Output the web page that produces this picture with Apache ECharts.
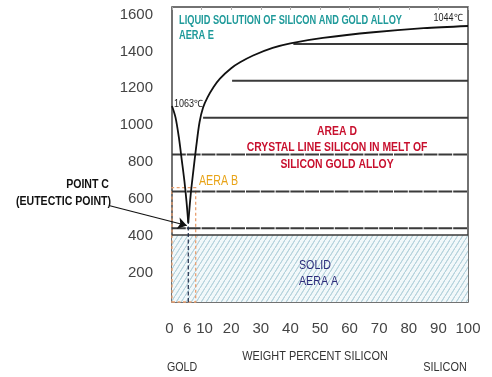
<!DOCTYPE html>
<html><head><meta charset="utf-8">
<script src="https://cdn.jsdelivr.net/npm/echarts@6/dist/echarts.min.js"></script>
<style>html,body{margin:0;padding:0;background:#fff;}#c{width:492px;height:377px;}</style>
</head><body><div id="c"></div>
<script>
// ---- data ----
const xTickLabels = [0, 6, 10, 20, 30, 40, 50, 60, 70, 80, 90, 100];
const yTickLabels = [200, 400, 600, 800, 1000, 1200, 1400, 1600];
const goldLiquidusX = [0, 1.2, 2.3, 3.3, 4.2, 4.9, 5.5];
const goldLiquidusT = [1063, 1000, 895, 770, 655, 545, 430];
const siliconLiquidusX = [5.5, 6.3, 7.2, 8.2, 9.3, 10.5, 12.0, 14.0, 16.2, 20.0, 23.0, 27.4, 34.0, 40.0, 51.0, 68.0, 85.0, 100];
const siliconLiquidusT = [430, 580, 710, 845, 975, 1055, 1110, 1165, 1212, 1268, 1300, 1337, 1378, 1403, 1432, 1463, 1485, 1497];
const isothermT = [1400, 1200, 1000, 800, 600, 400];
const isothermStartX = [41, 20.3, 10.5, 0, 0, 0];
const eutecticT = 363;
const eutecticX = 5.5;
const eutecticTopT = 430;
const areaBMaxX = 8;
const areaBMaxT = 620;
const arrowFrom = [-21, 522];
const arrowTo = [5.0, 415];

const FONT = '"Liberation Sans", Arial, sans-serif';

function hatch() {
  const c = document.createElement('canvas');
  c.width = 5; c.height = 8;
  const g = c.getContext('2d');
  g.fillStyle = '#f2f8fa'; g.fillRect(0, 0, 5, 8);
  g.strokeStyle = '#b4d2dc'; g.lineWidth = 1;
  g.beginPath();
  g.moveTo(-5, 16); g.lineTo(5, 0);
  g.moveTo(0, 8); g.lineTo(5, 0);
  g.moveTo(0, 16); g.lineTo(10, 0);
  g.stroke();
  return c;
}

const zip = (xs, ys) => xs.map((x, i) => [x, ys[i]]);

const isoSeries = isothermT.map((t, i) => ({
  type: 'line', data: [[isothermStartX[i], t], [100, t]], symbol: 'none', silent: true,
  lineStyle: { color: '#3a3a3a', width: 2, type: isothermStartX[i] === 0 ? [13.8, 1] : 'solid' }, z: 3
}));

function txt(text, x, y, color, size, weight, scale, align) {
  return {
    type: 'text', x: x, y: y, z: 10, scaleX: scale, scaleY: 1,
    style: { text: text, fill: color, font: (weight || 'normal') + ' ' + size + 'px ' + FONT, align: align || 'left', verticalAlign: 'middle' }
  };
}

const chart = echarts.init(document.getElementById('c'), null, { renderer: 'canvas' });
chart.setOption({
  animation: false,
  backgroundColor: '#ffffff',
  grid: { left: 172, right: 24, top: 7, bottom: 75, show: true, borderColor: '#444', borderWidth: 1.5, backgroundColor: 'transparent' },
  xAxis: [{
    type: 'value', min: 0, max: 100, interval: 10,
    axisLine: { show: false }, axisTick: { show: false }, splitLine: { show: false },
    axisLabel: {
      customValues: xTickLabels, margin: 19, color: '#444', fontSize: 15, fontFamily: FONT,
      formatter: v => v === 6 ? '{a|6}' : (v === 10 ? '{b|10}' : (v === 0 ? '{a|0}' : String(v))),
      rich: { a: { padding: [0, 5, 0, 0], fontSize: 15, color: '#444', fontFamily: FONT }, b: { padding: [0, 0, 0, 6], fontSize: 15, color: '#444', fontFamily: FONT } }
    }
  }, {
    type: 'value', min: 0, max: 100, interval: 10, position: 'top',
    axisLine: { show: false }, axisLabel: { show: false }, splitLine: { show: false },
    axisTick: { show: true, inside: true, length: 3, lineStyle: { color: '#aaa' } }
  }],
  yAxis: {
    type: 'value', min: 0, max: 1600, interval: 200,
    axisLine: { show: false }, axisTick: { show: false }, splitLine: { show: false },
    axisLabel: { customValues: yTickLabels, margin: 19, color: '#444', fontSize: 15, verticalAlign: 'top', fontFamily: FONT, formatter: v => String(v) }
  },
  series: [
    {
      type: 'line', data: [[0, eutecticT], [100, eutecticT]], symbol: 'none', silent: true, z: 3,
      lineStyle: { color: '#3a3a3a', width: 1.5 },
      markArea: {
        silent: true,
        data: [
          [{ coord: [0, 0], itemStyle: { color: { image: hatch(), repeat: 'repeat' }, borderWidth: 0 } }, { coord: [100, eutecticT] }],
          [{ coord: [0, 0], itemStyle: { color: 'rgba(0,0,0,0)', borderColor: '#e9a070', borderWidth: 1.3, borderType: [3, 2.5] } }, { coord: [areaBMaxX, areaBMaxT] }]
        ]
      }
    },
    ...isoSeries,
    {
      type: 'line', data: [[eutecticX, 0], [eutecticX, eutecticTopT]], symbol: 'none', silent: true, z: 4,
      lineStyle: { color: '#1d2b48', width: 1.2, type: [4, 2.5] }
    },
    {
      type: 'line', data: zip(goldLiquidusX, goldLiquidusT), symbol: 'none', smooth: 0.3, silent: true, z: 5,
      lineStyle: { color: '#111', width: 1.8 }
    },
    {
      type: 'line', data: zip(siliconLiquidusX, siliconLiquidusT), symbol: 'none', smooth: 0.3, silent: true, z: 5,
      lineStyle: { color: '#111', width: 1.8 }
    },
    {
      type: 'lines', coordinateSystem: 'cartesian2d', clip: false, silent: true, z: 6,
      symbol: ['none', 'arrow'], symbolSize: 9,
      lineStyle: { color: '#111', width: 1.2, opacity: 1 },
      data: [{ coords: [arrowFrom, arrowTo] }]
    }
  ],
  graphic: [
    txt('LIQUID SOLUTION OF SILICON AND GOLD ALLOY', 179, 21, '#1f9a9a', 12.5, 'bold', 0.74),
    txt('AERA E', 179, 36, '#1f9a9a', 12.5, 'bold', 0.74),
    txt('1044℃', 448, 18, '#222', 10, 'normal', 0.9, 'center'),
    txt('1063℃', 174, 104, '#222', 10, 'normal', 0.9, 'left'),
    txt('AREA D', 337, 131, '#c8102e', 13, 'bold', 0.8, 'center'),
    txt('CRYSTAL LINE SILICON IN MELT OF', 337, 147, '#c8102e', 13, 'bold', 0.8, 'center'),
    txt('SILICON GOLD ALLOY', 337, 164, '#c8102e', 13, 'bold', 0.8, 'center'),
    txt('AERA B', 199, 181, '#e8a317', 14, 'normal', 0.76),
    txt('SOLID', 299, 265, '#2b2b7a', 13.5, 'normal', 0.79),
    txt('AERA A', 299, 281, '#2b2b7a', 13.5, 'normal', 0.79),
    txt('POINT C', 109, 185, '#111', 12, 'bold', 0.88, 'right'),
    txt('(EUTECTIC POINT)', 111, 202, '#111', 12, 'bold', 0.88, 'right'),
    txt('GOLD', 182, 367, '#333', 13, 'normal', 0.82, 'center'),
    txt('WEIGHT PERCENT SILICON', 315, 356, '#333', 13, 'normal', 0.84, 'center'),
    txt('SILICON', 445, 367, '#333', 13, 'normal', 0.84, 'center')
  ]
});
</script></body></html>
